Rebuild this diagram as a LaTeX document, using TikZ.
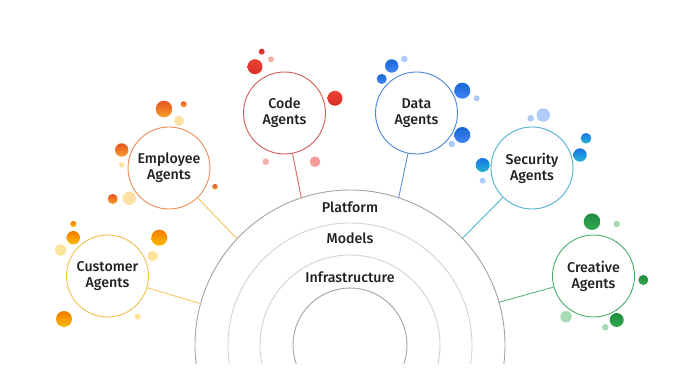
\documentclass[tikz,border=0pt]{standalone}
\usepackage{fontspec}
\IfFontExistsTF{Fira Sans Medium}{\newfontfamily\gsfont{Fira Sans Medium}}{\newfontfamily\gsfont{Open Sans}}
\usetikzlibrary{calc}
\definecolor{txt}{HTML}{202124}
\definecolor{arcdark}{HTML}{A3A3A3}
\definecolor{arclight}{HTML}{D3D3D3}
% circle borders
\definecolor{bcust}{HTML}{F4C04E}
\definecolor{bempl}{HTML}{EE8A55}
\definecolor{bcode}{HTML}{D25A55}
\definecolor{bdata}{HTML}{4A86D8}
\definecolor{bsec}{HTML}{4DB2CC}
\definecolor{bcre}{HTML}{48AE6E}
% connectors
\definecolor{lcust}{HTML}{F6C85F}
\definecolor{lempl}{HTML}{F3C65A}
\definecolor{lcode}{HTML}{D86A60}
\definecolor{ldata}{HTML}{5E92DE}
\definecolor{lsec}{HTML}{55B7D2}
\definecolor{lcre}{HTML}{5DB67C}
% dots
\definecolor{cuA}{HTML}{F57C00}\definecolor{cuB}{HTML}{FBBC04}\definecolor{cuP}{HTML}{FDE49B}
\definecolor{emA}{HTML}{E8531F}\definecolor{emB}{HTML}{F6A02D}\definecolor{emP}{HTML}{FCE1A4}
\definecolor{coA}{HTML}{D93025}\definecolor{coB}{HTML}{EA4335}\definecolor{coP}{HTML}{F7B1AC}\definecolor{coQ}{HTML}{F59C97}
\definecolor{daA}{HTML}{1967D2}\definecolor{daB}{HTML}{4285F4}\definecolor{daP}{HTML}{AECBFA}
\definecolor{seA}{HTML}{1A73E8}\definecolor{seB}{HTML}{24B5D0}\definecolor{seP}{HTML}{AECBFA}
\definecolor{crA}{HTML}{1E8E3E}\definecolor{crB}{HTML}{34A853}\definecolor{crP}{HTML}{A8DAB5}
\newcommand\bub[4]{\shade[top color=#3,bottom color=#4] (#1) circle (#2);}
\newcommand\pale[3]{\fill[#3] (#1) circle (#2);}
\tikzset{
  agent/.style={circle,draw=#1,line width=0.9pt,fill=white,minimum size=82pt,inner sep=0pt,
    align=center,text=txt,font=\gsfont\fontsize{14.2}{15.8}\selectfont},
  layer/.style={text=txt,font=\gsfont\fontsize{14.2}{15.8}\selectfont,inner sep=0pt},
  conn/.style={draw=#1,line width=0.9pt}
}
\begin{document}
\begin{tikzpicture}[x=1pt,y=-1pt]
\useasboundingbox[fill=white] (0,0) rectangle (680,382);
\coordinate (O) at (350,345);
% platform arcs
\begin{scope}
\clip (0,0) rectangle (680,363);
\draw[arcdark,line width=0.9pt] (O) circle (155);
\draw[arclight,line width=0.9pt] (O) circle (122);
\draw[arclight,line width=0.9pt] (O) circle (90);
\draw[arcdark,line width=0.9pt] (O) circle (57);
\end{scope}
\node[layer] (plat) at (350,207) {Platform};
\node[layer] (mod) at (350,238.5) {Models};
\node[layer] (infra) at (350,277) {Infrastructure};
% arc end points of connectors
\coordinate (ecust) at ($(O)+(-164.5:155)$);
\coordinate (eempl) at ($(O)+(-136.8:155)$);
\coordinate (ecode) at ($(O)+(-108.3:155)$);
\coordinate (edata) at ($(O)+(-71.7:155)$);
\coordinate (esec)  at ($(O)+(-43.5:155)$);
\coordinate (ecre)  at ($(O)+(-16:155)$);
% agents
\node[agent=bcust] (cust) at (107.5,276) {Customer\\Agents};
\node[agent=bempl] (empl) at (169,168) {Employee\\Agents};
\node[agent=bcode] (code) at (284.5,113) {Code\\Agents};
\node[agent=bdata] (data) at (416.5,113) {Data\\Agents};
\node[agent=bsec]  (sec)  at (532,168) {Security\\Agents};
\node[agent=bcre]  (cre)  at (593.5,276) {Creative\\Agents};
% connectors
\draw[conn=lcust] (cust) -- (ecust);
\draw[conn=lempl] (empl) -- (eempl);
\draw[conn=lcode] (code) -- (ecode);
\draw[conn=ldata] (data) -- (edata);
\draw[conn=lsec]  (sec)  -- (esec);
\draw[conn=lcre]  (cre)  -- (ecre);
% customer dots
\bub{73.3,224}{3}{cuA}{cuB}
\bub{73.3,237.7}{6.7}{cuA}{cuB}
\pale{60.7,250}{5.7}{cuP}
\bub{159.3,237.7}{8}{cuA}{cuB}
\pale{152.7,256}{5.3}{cuP}
\bub{64,319}{8}{cuA}{cuB}
\pale{137.7,316.7}{3}{cuP}
% employee dots
\bub{164,109}{8.3}{emA}{emB}
\bub{183.7,104.3}{3}{emA}{emB}
\pale{179,120.7}{5}{emP}
\bub{121.7,150}{6.7}{emA}{emB}
\pale{121.7,165}{2.7}{emP}
\bub{112.7,199}{5}{emA}{emB}
\pale{129.3,198.3}{6.7}{emP}
\bub{215,186.7}{2.7}{emA}{emB}
% code dots
\bub{261.7,51.7}{3}{coA}{coB}
\pale{271,59.3}{3}{coP}
\bub{255,66.7}{7.5}{coB}{coA}
\bub{335,98.3}{7.5}{coB}{coA}
\pale{265.7,161.7}{3.3}{coP}
\pale{315,161.7}{5.3}{coQ}
% data dots
\pale{404.3,59}{3.3}{daP}
\bub{391.7,66}{6.7}{daA}{daB}
\bub{381.7,79}{5}{daA}{daB}
\bub{462.3,90.7}{8}{daA}{daB}
\pale{476.7,98.3}{3}{daP}
\bub{462.3,135}{8}{daA}{daB}
\pale{451.7,144}{3.3}{daP}
% security dots
\pale{543.3,115}{6.7}{seP}
\pale{530.7,118.3}{3.3}{seP}
\bub{586,138.3}{5.3}{seA}{seB}
\bub{580,155}{6.7}{seA}{seB}
\bub{482.7,165}{7}{seA}{seB}
\pale{482.7,180.7}{3}{seP}
% creative dots
\bub{592,221.7}{8.3}{crA}{crB}
\pale{616.7,224}{3.3}{crP}
\bub{643.3,280}{5}{crA}{crB}
\pale{566,316.7}{5.7}{crP}
\bub{616.7,320}{7}{crA}{crB}
\pale{605.3,327.3}{3.3}{crP}
\end{tikzpicture}
\end{document}
